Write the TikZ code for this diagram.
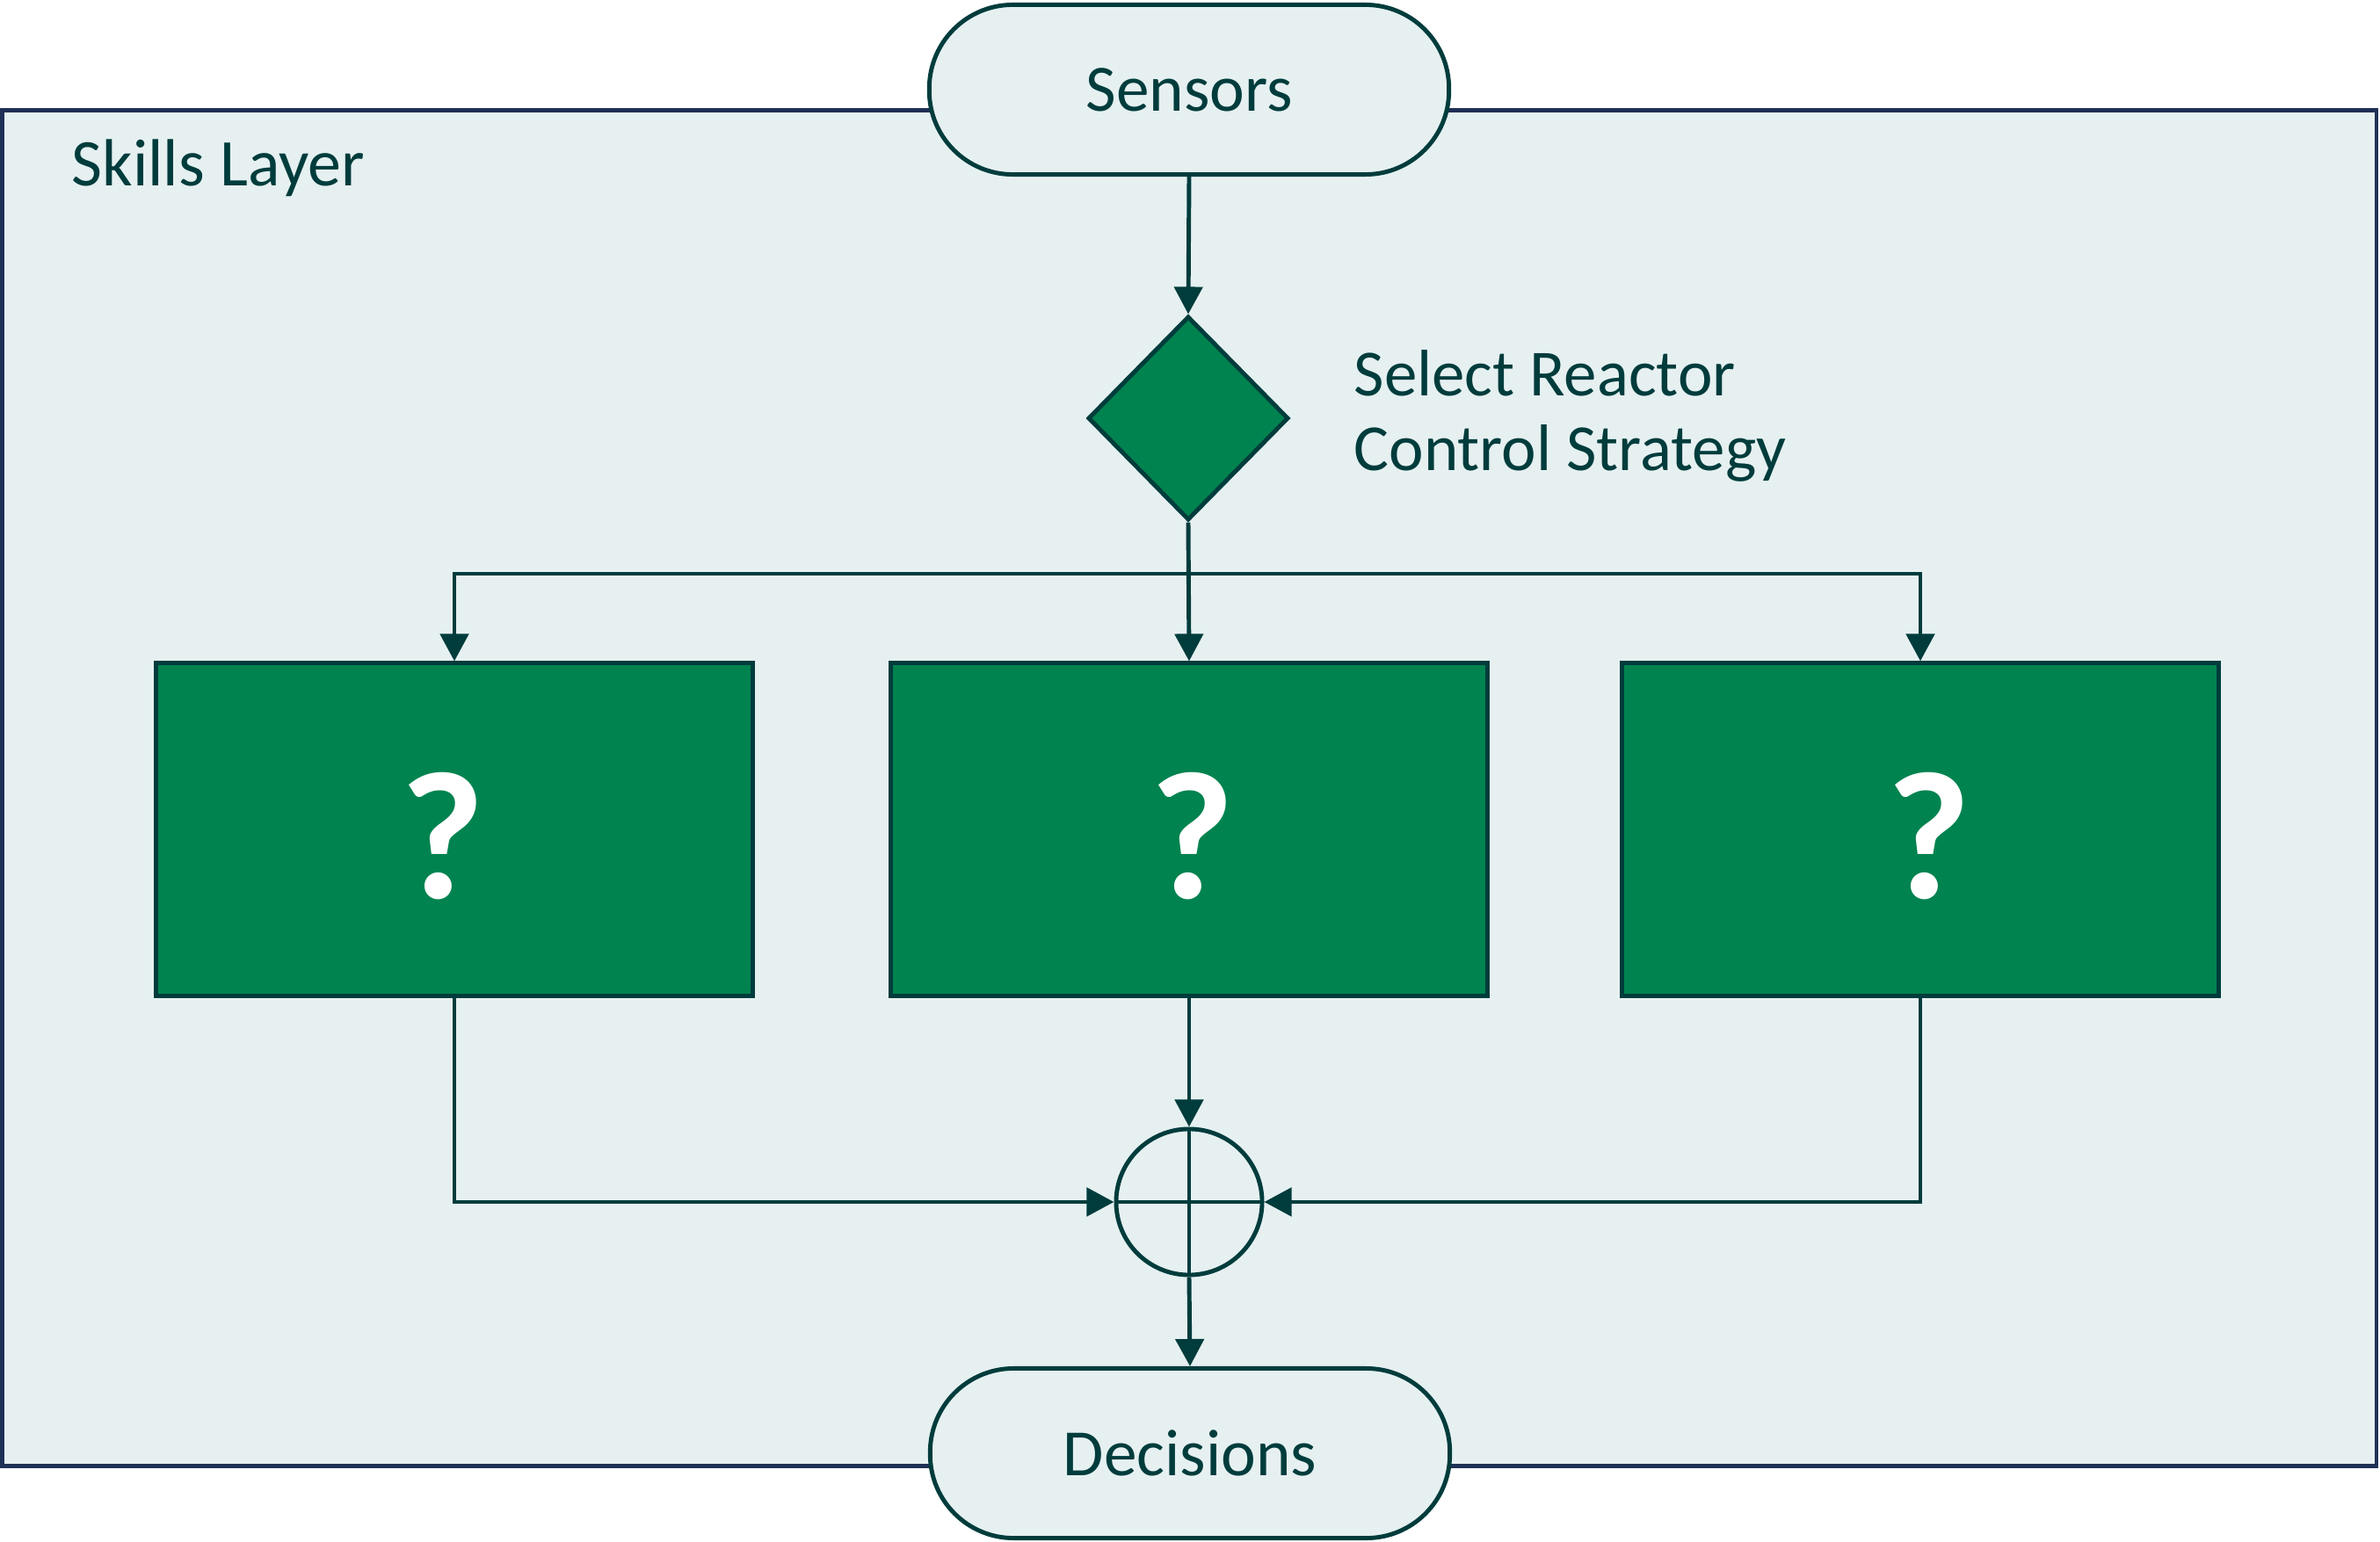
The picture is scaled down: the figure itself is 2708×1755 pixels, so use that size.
\documentclass[tikz,border=0pt]{standalone}
\usepackage{fontspec}
\setmainfont{Carlito}
\usetikzlibrary{arrows.meta,shapes.geometric}
\definecolor{teal1}{HTML}{003C3C}
\definecolor{navy1}{HTML}{1F3056}
\definecolor{green1}{HTML}{00834F}
\definecolor{light1}{HTML}{E6F0F1}
\tikzset{
  line/.style={draw=teal1, line width=1.4pt},
  arr/.style={line, -{Triangle[length=0.31cm,width=0.32cm]}},
  terminal/.style={draw=teal1, line width=1.4pt, fill=light1, rounded corners=0.95cm,
    minimum width=5.91cm, minimum height=1.93cm, inner sep=0pt, text=teal1,
    font=\fontsize{21.4}{26}\selectfont},
  skill/.style={draw=teal1, line width=1.4pt, fill=green1, minimum width=6.79cm,
    minimum height=3.78cm, inner sep=0pt},
  qmark/.style={text=white, inner sep=0pt, font=\fontsize{59}{68}\selectfont\bfseries},
  label/.style={text=teal1, inner sep=0pt, font=\fontsize{21.3}{26}\selectfont},
}
\begin{document}
\begin{tikzpicture}[x=0.01cm,y=-0.01cm]
\useasboundingbox (0,0) rectangle (2708,1755);
\node[draw=navy1, line width=1.3pt, fill=light1, minimum width=27.00cm, minimum height=15.42cm,
  inner sep=0pt] (layer) at (1353,897) {};
\node[label, anchor=base west, font=\fontsize{21.6}{26}\selectfont] (title) at (81,212) {Skills Layer};
\node[terminal] (sensors) at (1353,102) {Sensors};
\node[terminal] (dec) at (1354,1654) {Decisions};
\node[diamond, draw=teal1, line width=1.4pt, fill=green1, minimum width=2.28cm,
  minimum height=2.32cm, inner sep=0pt] (dia) at (1352,476) {};
\node[label, anchor=base west] (lab1) at (1540,451) {Select Reactor};
\node[label, anchor=base west] (lab2) at (1540,536) {Control Strategy};
\node[skill] (left) at (517,944) {};
\node[skill] (mid) at (1353,944) {};
\node[skill] (right) at (2185,944) {};
\node[qmark] (q1) at ([xshift=-0.13cm,yshift=-0.08cm]left.center) {?};
\node[qmark] (q2) at ([xshift=0.04cm,yshift=-0.08cm]mid.center) {?};
\node[qmark] (q3) at ([xshift=0.10cm,yshift=-0.08cm]right.center) {?};
\node[circle, draw=teal1, line width=1.4pt, minimum size=1.66cm, inner sep=0pt,
  path picture={\draw[teal1, line width=1.4pt]
    (path picture bounding box.north) -- (path picture bounding box.south)
    (path picture bounding box.west) -- (path picture bounding box.east);}] (sum) at (1353,1368) {};
\coordinate (br) at (1353,653);
\draw[arr] (sensors.south) -- (dia.north);
\draw[arr] (dia.south) -- (mid.north);
\draw[arr] (br) -| (left.north);
\draw[arr] (br) -| (right.north);
\draw[arr] (left.south) |- (sum.west);
\draw[arr] (right.south) |- (sum.east);
\draw[arr] (mid.south) -- (sum.north);
\draw[arr] (sum.south) -- (dec.north);
\end{tikzpicture}
\end{document}
